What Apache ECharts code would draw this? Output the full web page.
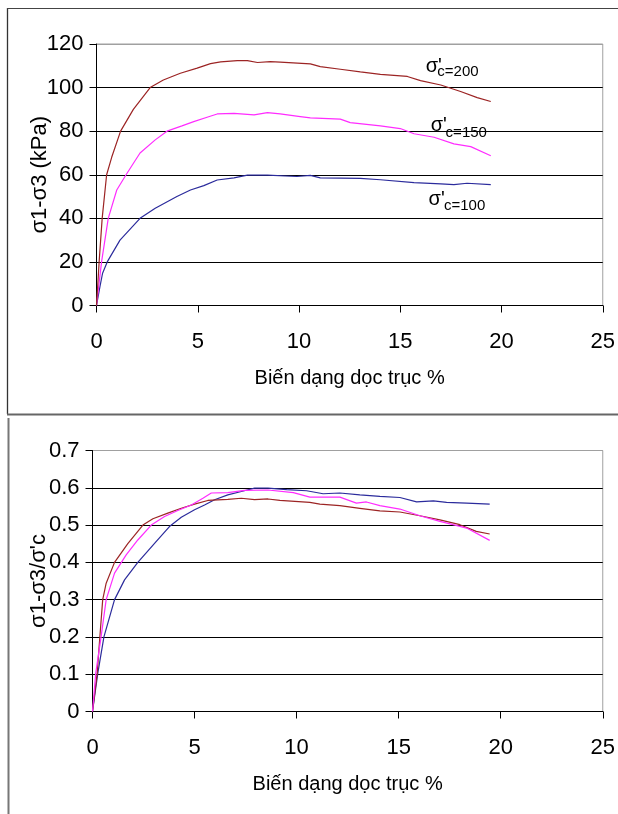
<!DOCTYPE html>
<html><head><meta charset="utf-8">
<script src="https://cdn.jsdelivr.net/npm/echarts@6/dist/echarts.min.js"></script>
<style>html,body{margin:0;padding:0;background:#fff}#c{width:618px;height:814px}</style>
</head><body><div id="c"></div>
<script>
// ---- Top chart: deviator stress (kPa) vs axial strain (%) ----
var topX200 = [0, 0.13, 0.28, 0.5, 0.75, 1.19, 1.82, 2.65, 3.3, 4.14, 4.97, 5.63, 6.13, 6.95, 7.45, 7.95, 8.58, 9.07, 10.56, 11.05, 12.04, 13.03, 14.02, 15.35, 16.0, 17.0, 17.98, 18.8, 19.47];
var topY200 = [0, 20, 40, 60, 68, 80, 90, 100, 103.5, 106.6, 108.9, 111, 111.8, 112.4, 112.4, 111.5, 111.9, 111.7, 110.9, 109.6, 108.4, 107.2, 106.1, 105.1, 103.2, 101.2, 98.2, 95.4, 93.6];
var topX150 = [0, 0.25, 0.58, 1.0, 1.46, 2.15, 2.9, 3.48, 4.22, 4.8, 5.46, 5.96, 6.79, 7.78, 8.44, 9.07, 10.06, 10.56, 12.04, 12.53, 14.02, 15.0, 15.68, 16.67, 17.65, 18.48, 19.47];
var topY150 = [0, 20, 40, 53, 60, 70, 76, 80, 82.4, 84.4, 86.4, 87.9, 88.2, 87.5, 88.5, 87.9, 86.7, 86.1, 85.5, 83.9, 82.4, 81.2, 78.8, 77.2, 74.2, 72.9, 68.7];
var topX100 = [0, 0.17, 0.3, 0.53, 1.16, 2.15, 2.9, 3.97, 4.64, 5.3, 5.96, 6.79, 7.45, 8.44, 9.9, 10.56, 11.05, 13.03, 14.02, 15.68, 17.0, 17.65, 18.3, 19.47];
var topY100 = [0, 8.7, 14.8, 20, 30, 40, 44.6, 50, 53, 55, 57.6, 58.6, 59.8, 59.8, 59.2, 59.7, 58.6, 58.3, 57.7, 56.4, 55.8, 55.5, 56.1, 55.5];

// ---- Bottom chart: normalised stress vs axial strain (%) ----
var botX200 = [0, 0.23, 0.36, 0.5, 0.67, 1.08, 1.73, 2.47, 2.96, 3.69, 4.35, 5.0, 5.65, 6.63, 7.29, 7.94, 8.6, 9.18, 10.65, 11.14, 12.12, 13.1, 14.08, 15.06, 16.04, 17.02, 18.0, 18.8, 19.46];
var botY200 = [0, 0.103, 0.2, 0.3, 0.344, 0.4, 0.45, 0.5, 0.517, 0.532, 0.545, 0.556, 0.566, 0.569, 0.572, 0.568, 0.57, 0.566, 0.561, 0.556, 0.552, 0.545, 0.538, 0.535, 0.525, 0.514, 0.501, 0.483, 0.476];
var botX150 = [0, 0.16, 0.42, 0.67, 1.08, 1.65, 2.22, 2.88, 3.53, 4.18, 4.84, 5.41, 5.82, 6.63, 7.45, 8.6, 9.84, 10.65, 12.12, 12.93, 13.42, 14.08, 15.06, 16.04, 17.02, 17.67, 18.33, 19.46];
var botY150 = [0, 0.103, 0.2, 0.3, 0.371, 0.42, 0.46, 0.5, 0.523, 0.539, 0.554, 0.572, 0.586, 0.587, 0.593, 0.594, 0.587, 0.575, 0.575, 0.559, 0.562, 0.552, 0.543, 0.525, 0.51, 0.501, 0.492, 0.459];
var botX100 = [0, 0.26, 0.56, 1.08, 1.57, 2.22, 3.04, 3.77, 4.35, 5.0, 5.49, 5.98, 6.63, 7.29, 7.94, 8.6, 9.51, 10.49, 11.3, 12.12, 13.1, 14.08, 15.06, 15.88, 16.7, 17.35, 18.33, 19.46];
var botY100 = [0, 0.103, 0.2, 0.3, 0.353, 0.4, 0.451, 0.496, 0.521, 0.541, 0.554, 0.568, 0.581, 0.59, 0.599, 0.599, 0.595, 0.592, 0.584, 0.586, 0.581, 0.577, 0.574, 0.562, 0.565, 0.561, 0.559, 0.556];

// ---- Axis texts and ticks ----
var xTicks = [0, 5, 10, 15, 20, 25];
var topYTicks = [0, 20, 40, 60, 80, 100, 120];
var botYTicks = ['0', '0.1', '0.2', '0.3', '0.4', '0.5', '0.6', '0.7'];
var xName = 'Biến dạng dọc trục %';
var topYName = 'σ1-σ3 (kPa)';
var botYName = "σ1-σ3/σ'c";

// ---- Curve annotations (data coordinates of top chart) ----
var annSigma = ["σ'", "σ'", "σ'"];
var annSub = ['c=200', 'c=150', 'c=100'];
var annSigmaX = [16.26, 16.5, 16.4];
var annSigmaY = [109.6, 82.4, 48.5];
var annSubX = [16.83, 17.24, 17.16];
var annSubY = [107, 79.4, 45.9];

var C200 = '#9c2424', C150 = '#ff2cff', C100 = '#2b2b9c';
var NARROW = "'Liberation Sans Narrow','Arial Narrow','Liberation Sans',sans-serif";

function pairs(xs, ys) { return xs.map(function (x, i) { return [x, ys[i]]; }); }
function line(name, xs, ys, color, idx) {
  return { name: name, type: 'line', xAxisIndex: idx, yAxisIndex: idx, data: pairs(xs, ys),
    symbol: 'none', smooth: false, lineStyle: { color: color, width: 1.2 }, animation: false };
}
function xAxis(idx) {
  return { type: 'value', gridIndex: idx, min: 0, max: 25, interval: 5,
    name: xName, nameLocation: 'middle', nameGap: 63, nameMoveOverlap: false,
    nameTextStyle: { fontFamily: NARROW, fontSize: 20, color: '#000' },
    axisLine: { lineStyle: { color: '#000', width: 1 } },
    axisTick: { show: true, length: 7, lineStyle: { color: '#000' } },
    axisLabel: { margin: 25, fontFamily: NARROW, fontSize: 22, color: '#000' },
    splitLine: { show: false } };
}
function yAxis(idx, max, interval, name, gap, labels, n) {
  var cols = []; for (var i = 0; i < n; i++) cols.push(i === n - 1 ? '#a0a0a0' : '#000');
  return { type: 'value', gridIndex: idx, min: 0, max: max, interval: interval,
    name: name, nameLocation: 'middle', nameGap: gap, nameRotate: 90, nameMoveOverlap: false,
    nameTextStyle: { fontFamily: "'Liberation Sans',Arial,sans-serif", fontSize: 22, color: '#000' },
    axisLine: { show: true, lineStyle: { color: '#000', width: 1 } },
    axisTick: { show: true, length: 7, lineStyle: { color: '#000' } },
    axisLabel: { margin: 13, fontFamily: NARROW, fontSize: 22, color: '#000',
      formatter: function (v) { var k = Math.round(v / interval); return String(labels[k]); } },
    splitLine: { show: true, lineStyle: { color: cols, width: 1.2 } } };
}

var chart = echarts.init(document.getElementById('c'), null, { renderer: 'canvas' });
chart.setOption({
  backgroundColor: '#fff',
  animation: false,
  grid: [
    { left: 96.5, top: 44, width: 506.5, height: 261.5, show: true, borderColor: '#a0a0a0', borderWidth: 1, backgroundColor: 'transparent' },
    { left: 92.5, top: 450.5, width: 511.5, height: 261, show: true, borderColor: '#a0a0a0', borderWidth: 1, backgroundColor: 'transparent' }
  ],
  xAxis: [xAxis(0), xAxis(1)],
  yAxis: [yAxis(0, 120, 20, topYName, 46, topYTicks, 7), yAxis(1, 0.7, 0.1, botYName, 43, botYTicks, 8)],
  series: [
    line("σ'c=100", topX100, topY100, C100, 0),
    line("σ'c=150", topX150, topY150, C150, 0),
    line("σ'c=200", topX200, topY200, C200, 0),
    line("σ'c=100", botX100, botY100, C100, 1),
    line("σ'c=200", botX200, botY200, C200, 1),
    line("σ'c=150", botX150, botY150, C150, 1)
  ]
});

var g = [
  { type: 'line', shape: { x1: 7.5, y1: 8, x2: 7.5, y2: 414 }, style: { stroke: '#333', lineWidth: 1.3 } },
  { type: 'line', shape: { x1: 7, y1: 8.5, x2: 618, y2: 8.5 }, style: { stroke: '#444', lineWidth: 1.2 } },
  { type: 'line', shape: { x1: 7, y1: 414.5, x2: 618, y2: 414.5 }, style: { stroke: '#666', lineWidth: 2 } },
  { type: 'line', shape: { x1: 8.5, y1: 418, x2: 8.5, y2: 814 }, style: { stroke: '#777', lineWidth: 2 } }
];
for (var i = 0; i < annSigma.length; i++) {
  var p1 = chart.convertToPixel({ xAxisIndex: 0, yAxisIndex: 0 }, [annSigmaX[i], annSigmaY[i]]);
  var p2 = chart.convertToPixel({ xAxisIndex: 0, yAxisIndex: 0 }, [annSubX[i], annSubY[i]]);
  g.push({ type: 'text', x: p1[0], y: p1[1], z: 10,
    style: { text: annSigma[i], font: "20px 'Liberation Sans Narrow','Liberation Sans',sans-serif", fill: '#000', textAlign: 'left', textVerticalAlign: 'middle' } });
  g.push({ type: 'text', x: p2[0], y: p2[1], z: 10,
    style: { text: annSub[i], font: "15px 'Liberation Sans Narrow','Liberation Sans',sans-serif", fill: '#000', textAlign: 'left', textVerticalAlign: 'middle' } });
}
chart.setOption({ graphic: g });
</script>
</body></html>
